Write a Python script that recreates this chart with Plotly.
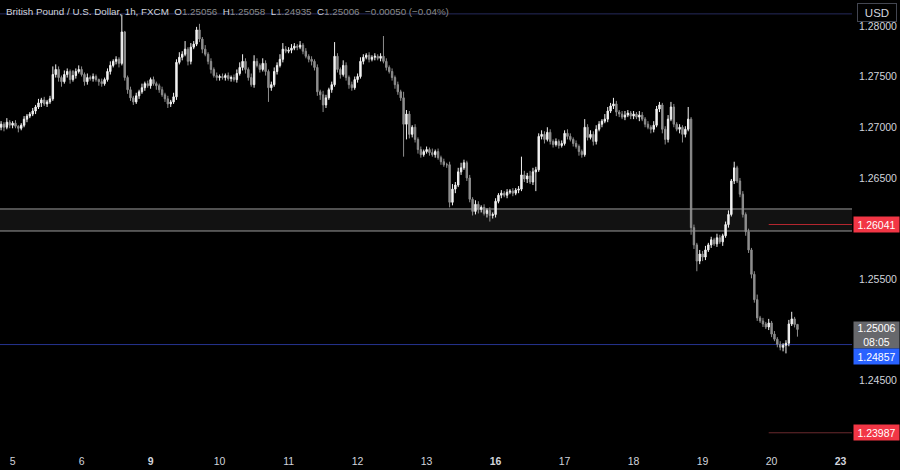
import plotly.graph_objects as go

# ---------------- data (GBP/USD, 1h, FXCM) ----------------
first_open = 1.2700
closes_pre = [1.2703, 1.2700, 1.2705, 1.2702]
closes_d05 = [1.2704, 1.2701, 1.2699, 1.2702, 1.2708, 1.2711, 1.2713, 1.2716, 1.2720, 1.2724, 1.2727, 1.2723,
              1.2725, 1.2728, 1.2752, 1.2757, 1.2749, 1.2745, 1.2752, 1.2755, 1.2747, 1.2751, 1.2755, 1.2757]
closes_d06 = [1.2752, 1.2745, 1.2749, 1.2748, 1.2750, 1.2747, 1.2745, 1.2743, 1.2747, 1.2755, 1.2761, 1.2765,
              1.2767, 1.2763, 1.2794, 1.2749, 1.2737, 1.2729, 1.2725, 1.2731, 1.2735, 1.2739, 1.2743, 1.2741]
closes_d09 = [1.2747, 1.2743, 1.2741, 1.2737, 1.2732, 1.2728, 1.2723, 1.2725, 1.2730, 1.2764, 1.2769, 1.2772,
              1.2777, 1.2765, 1.2779, 1.2782, 1.2796, 1.2787, 1.2777, 1.2772, 1.2765, 1.2757, 1.2751, 1.2749]
closes_d10 = [1.2750, 1.2749, 1.2751, 1.2748, 1.2749, 1.2747, 1.2753, 1.2759, 1.2765, 1.2757, 1.2749, 1.2742,
              1.2765, 1.2761, 1.2757, 1.2763, 1.2755, 1.2739, 1.2742, 1.2755, 1.2761, 1.2767, 1.2777, 1.2775]
closes_d11 = [1.2776, 1.2778, 1.2780, 1.2779, 1.2781, 1.2775, 1.2770, 1.2767, 1.2765, 1.2759, 1.2735, 1.2732,
              1.2722, 1.2729, 1.2737, 1.2742, 1.2770, 1.2757, 1.2752, 1.2761, 1.2749, 1.2742, 1.2739, 1.2747]
closes_d12 = [1.2750, 1.2765, 1.2769, 1.2771, 1.2767, 1.2769, 1.2770, 1.2768, 1.2770, 1.2765, 1.2759, 1.2755,
              1.2749, 1.2742, 1.2735, 1.2729, 1.2703, 1.2713, 1.2693, 1.2700, 1.2688, 1.2678, 1.2673, 1.2676]
closes_d13 = [1.2678, 1.2675, 1.2673, 1.2676, 1.2670, 1.2666, 1.2663, 1.2663, 1.2626, 1.2639, 1.2643, 1.2656,
              1.2660, 1.2665, 1.2650, 1.2629, 1.2617, 1.2624, 1.2619, 1.2621, 1.2615, 1.2618, 1.2613, 1.2614]
closes_d16 = [1.2627, 1.2633, 1.2635, 1.2633, 1.2636, 1.2637, 1.2635, 1.2638, 1.2639, 1.2653, 1.2649, 1.2652,
              1.2646, 1.2656, 1.2658, 1.2691, 1.2693, 1.2688, 1.2695, 1.2686, 1.2683, 1.2686, 1.2682, 1.2684]
closes_d17 = [1.2694, 1.2691, 1.2688, 1.2684, 1.2681, 1.2676, 1.2673, 1.2700, 1.2690, 1.2693, 1.2686, 1.2698,
              1.2703, 1.2706, 1.2708, 1.2716, 1.2721, 1.2723, 1.2715, 1.2713, 1.2710, 1.2712, 1.2714, 1.2711]
closes_d18 = [1.2713, 1.2710, 1.2712, 1.2708, 1.2703, 1.2700, 1.2698, 1.2702, 1.2718, 1.2722, 1.2698, 1.2688,
              1.2708, 1.2720, 1.2703, 1.2698, 1.2700, 1.2693, 1.2698, 1.2708, 1.2601, 1.2584, 1.2568, 1.2575]
closes_d19 = [1.2572, 1.2579, 1.2584, 1.2589, 1.2585, 1.2591, 1.2587, 1.2593, 1.2604, 1.2614, 1.2647, 1.2660,
              1.2647, 1.2634, 1.2614, 1.2597, 1.2579, 1.2555, 1.2530, 1.2512, 1.2509, 1.2506, 1.2503, 1.2507]
closes_d20 = [1.2496, 1.2491, 1.2486, 1.2483, 1.2485, 1.2487, 1.2506, 1.2511, 1.25056, 1.25006]

# wick lengths in pips (above the body / below the body)
upper_wick_pips = [3, 2, 4, 2,
    2, 3, 1, 2, 3, 2, 2, 3, 2, 4, 2, 3, 2, 3, 8, 5, 3, 2, 4, 3, 2, 5, 3, 4,
    3, 2, 4, 2, 3, 2, 1, 3, 2, 3, 4, 2, 3, 2, 17, 1, 2, 3, 2, 3, 2, 4, 2, 3,
    2, 3, 2, 2, 3, 2, 3, 2, 4, 3, 5, 3, 8, 2, 4, 3, 3, 6, 2, 4, 2, 3, 2, 3,
    2, 3, 2, 3, 2, 3, 4, 5, 7, 3, 2, 4, 6, 3, 2, 5, 3, 2, 3, 4, 3, 5, 6, 3,
    3, 4, 3, 2, 4, 2, 3, 2, 3, 2, 3, 2, 4, 3, 2, 3, 14, 3, 2, 5, 3, 2, 3, 3,
    3, 4, 3, 2, 3, 2, 3, 2, 3, 20, 3, 2, 3, 2, 3, 2, 6, 4, 3, 2, 3, 2, 3, 2,
    3, 2, 4, 2, 3, 2, 3, 2, 3, 5, 3, 4, 5, 3, 2, 3, 2, 4, 3, 2, 3, 2, 3, 2,
    3, 2, 3, 2, 3, 2, 3, 2, 3, 18, 4, 3, 5, 4, 3, 3, 4, 3, 5, 3, 2, 3, 2, 3,
    3, 4, 3, 2, 3, 2, 2, 8, 3, 4, 3, 4, 3, 2, 5, 4, 3, 6, 3, 2, 3, 4, 3, 2,
    3, 2, 4, 3, 2, 3, 2, 4, 3, 3, 2, 3, 4, 5, 3, 2, 3, 2, 3, 12, 2, 3, 2, 4,
    3, 4, 2, 3, 2, 4, 3, 2, 3, 4, 2, 6, 2, 3, 3, 2, 3, 2, 3, 5, 2, 3, 2, 4,
    2, 3, 2, 3, 2, 3, 4, 7, 2, 0.2]
lower_wick_pips = [3, 4, 2, 3,
    3, 2, 4, 2, 2, 3, 2, 2, 3, 2, 4, 2, 3, 2, 2, 3, 4, 5, 2, 3, 4, 2, 3, 2,
    2, 4, 3, 2, 3, 2, 4, 3, 2, 2, 3, 2, 3, 4, 2, 3, 4, 3, 3, 2, 3, 2, 3, 2,
    3, 2, 4, 3, 2, 3, 4, 3, 2, 3, 2, 3, 2, 4, 3, 2, 2, 3, 4, 2, 3, 4, 2, 3,
    3, 2, 3, 2, 3, 2, 3, 2, 3, 4, 3, 2, 3, 2, 3, 2, 4, 14, 3, 2, 3, 2, 3, 2,
    2, 3, 2, 3, 2, 3, 2, 3, 4, 3, 4, 5, 7, 3, 2, 3, 2, 3, 4, 2, 3, 4, 3, 2,
    3, 2, 3, 2, 3, 2, 3, 2, 3, 2, 3, 2, 3, 4, 3, 3, 32, 15, 4, 3, 3, 4, 3, 2,
    2, 3, 2, 3, 2, 3, 2, 3, 5, 3, 4, 2, 3, 2, 3, 3, 4, 3, 4, 3, 2, 4, 6, 3,
    3, 2, 3, 2, 3, 2, 3, 2, 3, 2, 3, 4, 2, 3, 19, 2, 3, 4, 2, 3, 3, 2, 3, 2,
    2, 3, 2, 3, 2, 4, 3, 2, 3, 2, 4, 3, 2, 3, 2, 3, 2, 3, 4, 3, 2, 3, 2, 3,
    3, 2, 4, 2, 3, 2, 4, 3, 2, 3, 4, 5, 3, 2, 3, 2, 4, 8, 3, 2, 7, 4, 10, 3,
    4, 3, 2, 3, 2, 3, 2, 4, 2, 3, 2, 3, 2, 3, 3, 4, 3, 4, 3, 3, 2, 3, 2, 3,
    3, 2, 3, 3, 4, 8, 3, 2, 3, 7.1]

day_labels = ["5", "6", "<b>9</b>", "10", "11", "12", "13", "<b>16</b>", "17", "18", "19", "20", "<b>23</b>"]
y_ticks = [1.245, 1.250, 1.255, 1.260, 1.265, 1.270, 1.275, 1.280]

zone_top, zone_bottom = 1.26194, 1.25977
level_red_upper = 1.26041
level_red_lower = 1.23987
level_blue = 1.24857
level_top_line = 1.28118
countdown = "08:05"

# ---------------- build OHLC ----------------
closes = (closes_pre + closes_d05 + closes_d06 + closes_d09 + closes_d10 + closes_d11 + closes_d12 +
          closes_d13 + closes_d16 + closes_d17 + closes_d18 + closes_d19 + closes_d20)
n = len(closes)
assert len(upper_wick_pips) == n and len(lower_wick_pips) == n, (n, len(upper_wick_pips), len(lower_wick_pips))
opens = [first_open] + closes[:-1]
highs = [max(o, c) + u / 10000 for o, c, u in zip(opens, closes, upper_wick_pips)]
lows = [min(o, c) - l / 10000 for o, c, l in zip(opens, closes, lower_wick_pips)]
idx = list(range(n))

HOURS_PER_DAY = 24
pre_hours = len(closes_pre)
tick_pos = [pre_hours + HOURS_PER_DAY * k for k in range(len(day_labels))]

FONT = "Liberation Sans, Arial, sans-serif"
TXT = "#d1d4dc"

fig = go.Figure()
fig.add_trace(go.Candlestick(
    x=idx, open=opens, high=highs, low=lows, close=closes,
    increasing=dict(line=dict(color="#f2f2f2", width=1), fillcolor="#f2f2f2"),
    decreasing=dict(line=dict(color="#8e8e8e", width=1), fillcolor="#8e8e8e"),
    whiskerwidth=0, showlegend=False, hoverinfo="skip"))

x_lo, x_hi = -0.38, 295.97
y_lo, y_hi = 1.23896, 1.28255

# zone
fig.add_shape(type="rect", xref="paper", yref="y", x0=0, x1=1, y0=zone_bottom, y1=zone_top,
              fillcolor="rgba(255,255,255,0.07)", line=dict(width=0), layer="below")
for yv in (zone_top, zone_bottom):
    fig.add_shape(type="line", xref="paper", yref="y", x0=0, x1=1, y0=yv, y1=yv,
                  line=dict(color="#9a9a9a", width=1), layer="below")
# horizontal levels
fig.add_shape(type="line", xref="paper", yref="y", x0=0, x1=1, y0=level_top_line, y1=level_top_line,
              line=dict(color="#262a5c", width=1), layer="below")
fig.add_shape(type="line", xref="paper", yref="y", x0=0, x1=1, y0=level_blue, y1=level_blue,
              line=dict(color="#25338f", width=1), layer="below")
red_start = tick_pos[11] - 1
fig.add_shape(type="line", xref="x", yref="y", x0=red_start, x1=x_hi, y0=level_red_upper, y1=level_red_upper,
              line=dict(color="#b3262f", width=1), layer="below")
fig.add_shape(type="line", xref="x", yref="y", x0=red_start, x1=x_hi, y0=level_red_lower, y1=level_red_lower,
              line=dict(color="#6a2a2e", width=1), layer="below")


def price_label(y, text, bg, yshift=0, height=13, yanchor="middle"):
    fig.add_annotation(xref="paper", yref="y", x=1, y=y, xanchor="left", yanchor=yanchor,
                       xshift=1, yshift=yshift, text=text, showarrow=False, bgcolor=bg,
                       font=dict(color="#ffffff", size=10.5, family=FONT),
                       width=43, height=height, borderpad=1, align="center")


price_label(level_red_upper, f"{level_red_upper:.5f}", "#f23645")
price_label(level_red_lower, f"{level_red_lower:.5f}", "#f23645")
price_label(closes[-1], f"{closes[-1]:.5f}<br>{countdown}", "#67686c", yshift=8, height=24, yanchor="top")
price_label(level_blue, f"{level_blue:.5f}", "#2962ff", yshift=-12)

# USD box
fig.add_annotation(xref="paper", yref="paper", x=1, y=1, xanchor="left", yanchor="top", xshift=5, yshift=-3,
                   text="USD", showarrow=False, bgcolor="#000000", bordercolor="#434651", borderwidth=1,
                   font=dict(color=TXT, size=11.5, family=FONT), width=36, height=15, borderpad=1)

# header
o, h, l, c = opens[-1], highs[-1], lows[-1], closes[-1]
chg = c - o
pct = chg / o * 100
VAL = "#8a8a8a"
header = (f"<span style='color:{TXT}'>British Pound / U.S. Dollar, 1h, FXCM</span>"
          f"  <span style='color:{TXT}'>O</span><span style='color:{VAL}'>{o:.5f}</span>"
          f"  <span style='color:{TXT}'>H</span><span style='color:{VAL}'>{h:.5f}</span>"
          f"  <span style='color:{TXT}'>L</span><span style='color:{VAL}'>{l:.5f}</span>"
          f"  <span style='color:{TXT}'>C</span><span style='color:{VAL}'>{c:.5f}</span>"
          f"  <span style='color:{VAL}'>{chg:+.5f} ({pct:+.2f}%)</span>").replace("-", "\u2212")
fig.add_annotation(xref="paper", yref="paper", x=0, y=1, xanchor="left", yanchor="top", xshift=4, yshift=-4,
                   text=header, showarrow=False, font=dict(size=9.8, family=FONT, color=TXT))

fig.update_layout(
    width=900, height=470,
    margin=dict(l=0, r=48, t=0, b=28),
    paper_bgcolor="#000000", plot_bgcolor="#000000",
    font=dict(family=FONT, color=TXT, size=10.5),
    showlegend=False,
    xaxis=dict(range=[x_lo, x_hi], rangeslider=dict(visible=False), showgrid=False, zeroline=False,
               showline=False, tickmode="array", tickvals=tick_pos, ticktext=day_labels, ticks="",
               tickfont=dict(size=10.5, color=TXT, family=FONT), ticklabelstandoff=11),
    yaxis=dict(range=[y_lo, y_hi], side="right", showgrid=False, zeroline=False, showline=False,
               tickmode="array", tickvals=y_ticks, ticktext=[f"{v:.5f}" for v in y_ticks], ticks="",
               tickfont=dict(size=10.5, color=TXT, family=FONT), ticklabelstandoff=6),
)

fig.write_html("out.html", config={"displayModeBar": False},
               post_script="document.body.style.margin='0';document.body.style.background='#000';"
                           "document.body.style.overflow='hidden';")
